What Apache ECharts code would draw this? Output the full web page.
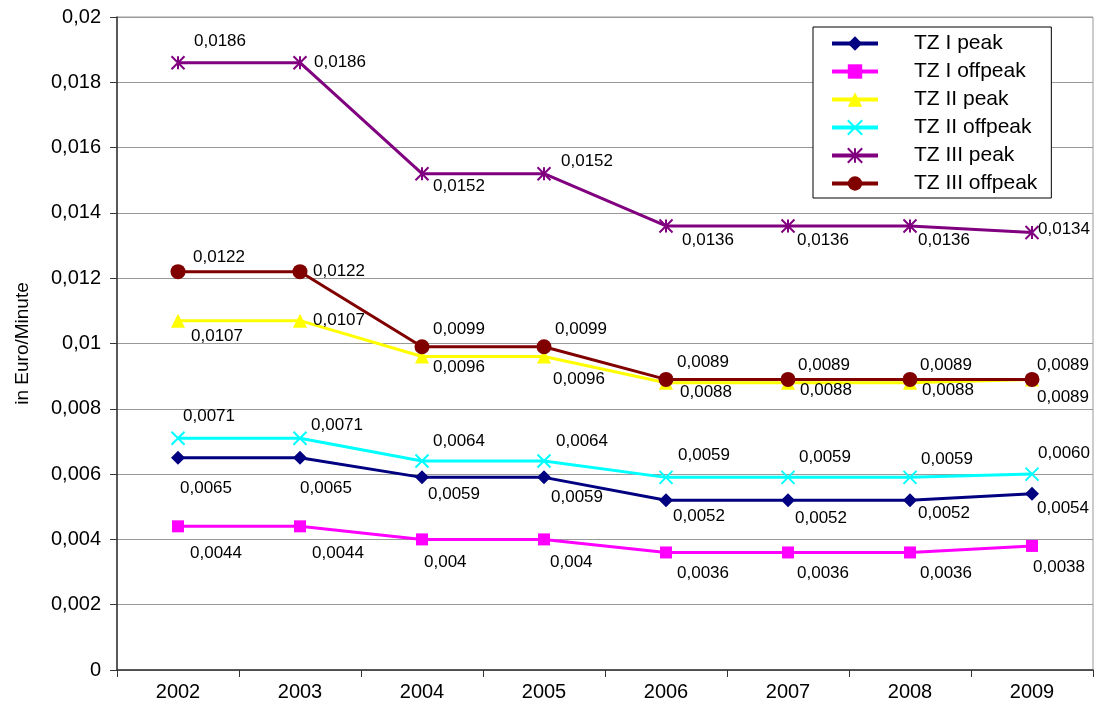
<!DOCTYPE html>
<html><head><meta charset="utf-8">
<script src="https://cdn.jsdelivr.net/npm/echarts@6/dist/echarts.min.js"></script>
<style>html,body{margin:0;padding:0;background:#fff}#c{width:1095px;height:713px}</style>
</head><body><div id="c"></div>
<script>
var categories = ['2002','2003','2004','2005','2006','2007','2008','2009'];
var seriesNames = ['TZ I peak','TZ I offpeak','TZ II peak','TZ II offpeak','TZ III peak','TZ III offpeak'];
var tz1Peak = [0.0065,0.0065,0.0059,0.0059,0.0052,0.0052,0.0052,0.0054];
var tz1Off = [0.0044,0.0044,0.004,0.004,0.0036,0.0036,0.0036,0.0038];
var tz2Peak = [0.0107,0.0107,0.0096,0.0096,0.0088,0.0088,0.0088,0.0089];
var tz2Off = [0.0071,0.0071,0.0064,0.0064,0.0059,0.0059,0.0059,0.0060];
var tz3Peak = [0.0186,0.0186,0.0152,0.0152,0.0136,0.0136,0.0136,0.0134];
var tz3Off = [0.0122,0.0122,0.0099,0.0099,0.0089,0.0089,0.0089,0.0089];
// data label texts as printed
var tz1PeakLbl = ['0,0065','0,0065','0,0059','0,0059','0,0052','0,0052','0,0052','0,0054'];
var tz1OffLbl = ['0,0044','0,0044','0,004','0,004','0,0036','0,0036','0,0036','0,0038'];
var tz2PeakLbl = ['0,0107','0,0107','0,0096','0,0096','0,0088','0,0088','0,0088','0,0089'];
var tz2OffLbl = ['0,0071','0,0071','0,0064','0,0064','0,0059','0,0059','0,0059','0,0060'];
var tz3PeakLbl = ['0,0186','0,0186','0,0152','0,0152','0,0136','0,0136','0,0136','0,0134'];
var tz3OffLbl = ['0,0122','0,0122','0,0099','0,0099','0,0089','0,0089','0,0089','0,0089'];

// label placement (text left edge / middle, relative to point centre)
var tz1PeakPos = [[2,31],[0,31],[6,17],[7,20],[7,16],[7,18],[8,13],[5,15]];
var tz1OffPos = [[12,27],[12,27],[2,23],[6,23],[11,21],[9,21],[10,21],[1,21]];
var tz2PeakPos = [[13,16],[13,0],[11,11],[9,23],[14,10],[12,8],[12,8],[5,18]];
var tz2OffPos = [[4,-22],[10,-13],[10,-20],[11,-20],[11,-22],[10,-20],[10,-18],[5,-21]];
var tz3PeakPos = [[15,-21],[13,0],[10,13],[16,-12],[15,14],[8,14],[7,14],[5,-3]];
var tz3OffPos = [[15,-14],[13,0],[11,-17],[11,-17],[11,-17],[10,-14],[10,-14],[5,-14]];

var FONT = 'Liberation Sans, Arial, sans-serif';
var X_PATH = 'path://M0,0L10,10M10,0L0,10';
var STAR_PATH = 'path://M5,0L5,10M0,0L10,10M10,0L0,10';

function mkData(vals, lbls, pos, size) {
  return vals.map(function (v, i) {
    return {
      value: v,
      label: {
        formatter: lbls[i],
        position: 'right',
        distance: 0,
        offset: [pos[i][0] - size / 2, pos[i][1]]
      }
    };
  });
}

function mkSeries(name, vals, lbls, pos, color, symbol, size, stroke) {
  var s = {
    name: name,
    type: 'line',
    data: mkData(vals, lbls, pos, size),
    symbol: symbol,
    symbolSize: size,
    showAllSymbol: true,
    lineStyle: { color: color, width: 3 },
    itemStyle: { color: color },
    label: {
      show: true,
      color: '#000',
      fontSize: 17,
      fontFamily: FONT,
      align: 'left',
      verticalAlign: 'middle'
    },
    emphasis: { disabled: true },
    animation: false
  };
  if (stroke) {
    s.itemStyle = { color: color, borderColor: color, borderWidth: 2 };
  }
  return s;
}

var chart = echarts.init(document.getElementById('c'));
chart.setOption({
  backgroundColor: '#fff',
  animation: false,
  grid: { left: 117, right: 2, top: 17, bottom: 43, show: true, borderColor: '#999', borderWidth: 1 },
  legend: {
    orient: 'vertical',
    left: 813,
    top: 27,
    data: seriesNames,
    backgroundColor: '#fff',
    borderColor: '#000',
    borderWidth: 1,
    borderRadius: 0,
    padding: [6, 14, 4, 17],
    itemWidth: 46,
    itemHeight: 18,
    itemGap: 7,
    lineStyle: { width: 4 },
    textStyle: { fontSize: 21, fontFamily: FONT, color: '#000', lineHeight: 21, padding: [0, 0, 0, 31] }
  },
  xAxis: {
    type: 'category',
    data: categories,
    boundaryGap: true,
    axisLine: { lineStyle: { color: '#333', width: 1.5 } },
    axisTick: { show: true, alignWithLabel: false, length: 7, lineStyle: { color: '#333' } },
    axisLabel: { fontSize: 20, fontFamily: FONT, color: '#000', margin: 12 },
    splitLine: { show: false }
  },
  yAxis: {
    type: 'value',
    min: 0,
    max: 0.02,
    interval: 0.002,
    name: 'in Euro/Minute',
    nameLocation: 'middle',
    nameRotate: 90,
    nameGap: 85,
    nameTextStyle: { fontSize: 19, fontFamily: FONT, color: '#000' },
    axisLine: { show: true, lineStyle: { color: '#333', width: 1.5 } },
    axisTick: { show: true, length: 7, lineStyle: { color: '#333' } },
    axisLabel: {
      fontSize: 20, fontFamily: FONT, color: '#000', margin: 16,
      formatter: function (v) { return String(+v.toFixed(4)).replace('.', ','); }
    },
    splitLine: { show: true, lineStyle: { color: '#999', width: 1 } }
  },
  series: [
    mkSeries(seriesNames[0], tz1Peak, tz1PeakLbl, tz1PeakPos, '#000080', 'diamond', 14, false),
    mkSeries(seriesNames[1], tz1Off, tz1OffLbl, tz1OffPos, '#FF00FF', 'rect', 12, false),
    mkSeries(seriesNames[2], tz2Peak, tz2PeakLbl, tz2PeakPos, '#FFFF00', 'triangle', 14, false),
    mkSeries(seriesNames[3], tz2Off, tz2OffLbl, tz2OffPos, '#00FFFF', X_PATH, 13, true),
    mkSeries(seriesNames[4], tz3Peak, tz3PeakLbl, tz3PeakPos, '#800080', STAR_PATH, 13, true),
    mkSeries(seriesNames[5], tz3Off, tz3OffLbl, tz3OffPos, '#800000', 'circle', 15, false)
  ]
});
</script>
</body></html>
